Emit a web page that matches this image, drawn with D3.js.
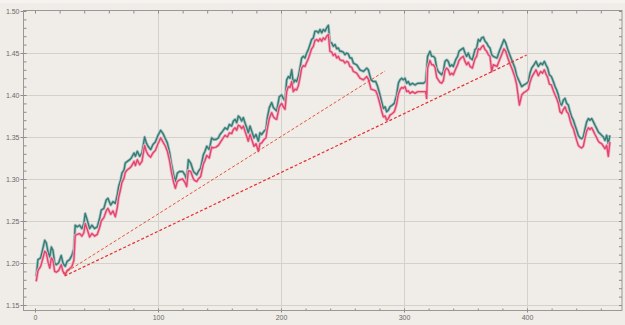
<!DOCTYPE html>
<html>
<head>
<meta charset="utf-8">
<script src="https://cdn.jsdelivr.net/npm/d3@7"></script>
<style>
  body { margin: 0; background: #f0ede8; }
  svg { display: block; font-family: "Liberation Sans", Arial, sans-serif; }
</style>
</head>
<body>
<div id="chart"></div>
<script>
// sample positions (x) and the two series
const xs = [1,2.4,4.6,6.5,7.9,9.2,10.6,12,13.3,14.6,16,17.3,19.2,21.3,22.7,24.6,26.2,28.1,30,31.6,
  32.7,34.3,36.2,38.1,39.7,40.8,42.5,44.4,46.3,48.4,50.6,52.5,53.9,56,57.9,59.3,61.5,63.4,65.3,66.9,
  68,69.6,70.7,72.4,73.4,75.1,77,78.3,80.5,81.6,83.2,85.1,87,89.1,90.5,91.9,94,95.9,97.8,100,
  102.2,104.1,106,107.6,109.5,110.8,112.7,114.1,115.7,117.6,120,121.9,123.3,124.7,126.6,128.8,130.1,131.5,132.8,134.7,
  136.9,138.2,139.6,141.7,143.6,145,147.2,149.1,150.4,152.6,154.5,156.4,158,159.9,161.3,162.6,164,165.3,166.7,168,
  169.4,170.7,172.1,173.4,174.8,176.2,178,179.7,181.6,182.9,184.3,186.2,187.8,188.9,190.5,192.4,193.8,195.1,196.5,198.6,
  200.5,201.9,203.3,204.6,206,207.3,208.7,210,211.4,212.7,214.1,215.4,216.8,218.2,219.5,220.9,222.2,223.6,224.9,226.3,
  227.6,229,230.4,231.7,233.1,234.4,235.8,237.1,238.5,239.8,241.2,242.5,243.9,245.3,246.6,247.9,249.3,250.6,252,253.4,
  254.7,256,257.5,258.8,261.5,264.2,267,269.7,271,273.2,275.1,277,278.6,280.5,281.8,283.2,284.6,285.9,287.3,288.6,
  290.5,292.1,294,295.4,296.7,298.1,299.5,300.8,302.2,303.5,304.9,306.8,309,311.2,313.9,315.8,317.6,318.4,319.2,321.1,
  322.5,323.8,325.2,326.6,327.9,329.3,330.6,332,333.3,334.7,336,337.4,338.8,340.1,342,343.6,344.7,346.3,348.2,349.6,
  350.9,352.3,353.7,355.6,357.7,359.1,360.4,361.8,363.1,364.5,365.9,367.2,368.6,369.9,371.3,372.6,375.6,377.5,379.7,381.3,
  382.7,384.4,386.2,388.1,390.2,391.6,393.8,395.7,397.5,399.8,401.2,402.4,403.8,405.7,407.3,409.2,411.1,412.6,414.1,415.4,
  416.8,418.2,419.8,421.4,422.8,424.1,425.5,426.8,428.2,429.6,430.9,432.3,433.6,435,436.3,437.7,439,440.4,441.7,443.1,
  444.4,445.8,447.2,448.5,449.9,451.2,452.6,454,455.3,456.7,458,459.4,460.7,462.1,463.4,464.8,466.1,467.4];

const tealVals = [1.184,1.204,1.206,1.218,1.227,1.224,1.213,1.207,1.219,1.215,1.200,1.198,1.200,1.209,1.200,1.196,1.202,1.204,1.209,1.217,
  1.245,1.243,1.245,1.241,1.247,1.259,1.251,1.241,1.245,1.241,1.243,1.253,1.263,1.265,1.275,1.277,1.269,1.273,1.271,1.281,
  1.291,1.299,1.307,1.311,1.319,1.321,1.323,1.325,1.331,1.327,1.333,1.327,1.331,1.350,1.343,1.339,1.335,1.341,1.344,1.352,
  1.358,1.354,1.348,1.343,1.331,1.319,1.305,1.297,1.307,1.309,1.309,1.305,1.299,1.323,1.319,1.309,1.307,1.305,1.309,1.313,
  1.329,1.333,1.339,1.335,1.349,1.347,1.347,1.349,1.353,1.357,1.361,1.359,1.365,1.363,1.369,1.371,1.367,1.375,1.373,1.369,
  1.373,1.367,1.361,1.355,1.363,1.357,1.349,1.353,1.345,1.355,1.353,1.357,1.359,1.373,1.385,1.391,1.385,1.383,1.381,1.398,
  1.400,1.396,1.393,1.418,1.422,1.420,1.430,1.414,1.418,1.416,1.422,1.432,1.444,1.446,1.444,1.450,1.454,1.460,1.466,1.468,
  1.476,1.476,1.474,1.478,1.474,1.478,1.476,1.480,1.483,1.463,1.462,1.458,1.460,1.455,1.456,1.452,1.452,1.451,1.448,1.450,
  1.449,1.444,1.444,1.438,1.436,1.430,1.428,1.432,1.430,1.418,1.416,1.416,1.410,1.400,1.392,1.384,1.386,1.380,1.382,1.386,
  1.388,1.390,1.400,1.414,1.418,1.420,1.418,1.420,1.414,1.416,1.412,1.414,1.412,1.414,1.414,1.414,1.416,1.430,1.446,1.452,
  1.446,1.446,1.444,1.432,1.428,1.426,1.424,1.428,1.440,1.442,1.440,1.434,1.436,1.434,1.442,1.446,1.452,1.454,1.456,1.450,
  1.446,1.450,1.444,1.442,1.454,1.456,1.466,1.464,1.468,1.469,1.464,1.462,1.458,1.456,1.448,1.446,1.444,1.452,1.460,1.466,
  1.462,1.454,1.447,1.440,1.432,1.423,1.416,1.410,1.412,1.414,1.416,1.426,1.432,1.436,1.440,1.434,1.438,1.436,1.440,1.436,
  1.432,1.424,1.422,1.416,1.410,1.406,1.400,1.390,1.388,1.394,1.396,1.390,1.388,1.380,1.374,1.370,1.364,1.358,1.352,1.349,
  1.348,1.350,1.360,1.368,1.372,1.370,1.372,1.368,1.364,1.360,1.356,1.354,1.352,1.350,1.346,1.352,1.342,1.352];

const pinkVals = [1.178,1.191,1.196,1.206,1.214,1.212,1.201,1.194,1.206,1.203,1.190,1.189,1.191,1.198,1.190,1.186,1.191,1.193,1.196,1.203,
  1.233,1.234,1.235,1.232,1.236,1.247,1.240,1.231,1.235,1.232,1.234,1.242,1.250,1.254,1.262,1.265,1.258,1.262,1.255,1.266,
  1.278,1.288,1.296,1.301,1.308,1.311,1.313,1.315,1.321,1.316,1.323,1.317,1.321,1.340,1.333,1.329,1.326,1.331,1.334,1.342,
  1.349,1.344,1.339,1.333,1.321,1.309,1.296,1.289,1.297,1.299,1.300,1.296,1.291,1.310,1.309,1.300,1.298,1.297,1.300,1.303,
  1.318,1.322,1.328,1.325,1.338,1.337,1.338,1.340,1.343,1.348,1.352,1.350,1.355,1.354,1.359,1.361,1.358,1.364,1.363,1.360,
  1.363,1.357,1.351,1.345,1.353,1.347,1.339,1.342,1.333,1.342,1.343,1.347,1.349,1.360,1.372,1.379,1.374,1.372,1.371,1.386,
  1.390,1.386,1.383,1.404,1.410,1.409,1.416,1.404,1.407,1.406,1.411,1.420,1.432,1.435,1.434,1.439,1.443,1.449,1.455,1.458,
  1.465,1.466,1.464,1.467,1.464,1.468,1.466,1.470,1.472,1.452,1.451,1.447,1.449,1.444,1.446,1.442,1.441,1.441,1.438,1.440,
  1.439,1.434,1.433,1.428,1.426,1.420,1.418,1.422,1.419,1.407,1.406,1.405,1.399,1.389,1.381,1.374,1.375,1.370,1.372,1.376,
  1.378,1.380,1.389,1.401,1.406,1.409,1.408,1.410,1.404,1.405,1.402,1.404,1.402,1.404,1.404,1.404,1.404,1.396,1.432,1.441,
  1.436,1.436,1.433,1.421,1.418,1.415,1.414,1.417,1.429,1.432,1.430,1.424,1.426,1.424,1.431,1.436,1.441,1.444,1.446,1.440,
  1.436,1.439,1.434,1.432,1.443,1.446,1.455,1.454,1.457,1.459,1.454,1.452,1.448,1.446,1.428,1.436,1.434,1.441,1.449,1.455,
  1.452,1.444,1.437,1.430,1.421,1.412,1.388,1.400,1.403,1.405,1.407,1.415,1.421,1.426,1.430,1.423,1.428,1.426,1.430,1.425,
  1.421,1.413,1.412,1.405,1.400,1.396,1.390,1.380,1.378,1.383,1.386,1.380,1.378,1.370,1.364,1.360,1.353,1.346,1.340,1.338,
  1.337,1.339,1.349,1.357,1.361,1.359,1.361,1.357,1.353,1.349,1.345,1.343,1.342,1.339,1.336,1.340,1.327,1.344];

// dashed trend lines, end points
const trendUpperX = [22.8, 284.6];
const trendUpperY = [1.187, 1.4286];
const trendLowerX = [24.1, 399.7];
const trendLowerY = [1.1845, 1.4476];

const xTicks = [0, 100, 200, 300, 400];
const yTicks = [1.15, 1.20, 1.25, 1.30, 1.35, 1.40, 1.45, 1.50];

const W = 625, H = 325;
const FRAME = { left: 23.5, right: 622, top: 10.5, bottom: 310.5 };

const svg = d3.select('#chart').append('svg')
  .attr('width', W)
  .attr('height', H);

svg.append('rect').attr('width', W).attr('height', H).attr('fill', '#f0ede8');
svg.append('rect').attr('width', W).attr('height', 3).attr('fill', '#f5f3f0');

const xScale = d3.scaleLinear().domain([0, 400]).range([35, 527]);
const yScale = d3.scaleLinear().domain([1.15, 1.50]).range([305, 11]);

// grid
svg.append('g').selectAll('line')
  .data(yTicks.filter(d => d < 1.5))
  .join('line')
  .attr('x1', FRAME.left).attr('x2', FRAME.right)
  .attr('y1', d => Math.round(yScale(d)) + 0.5).attr('y2', d => Math.round(yScale(d)) + 0.5)
  .attr('stroke', '#d4d0ca');

svg.append('g').selectAll('line')
  .data(xTicks.filter(d => d > 0))
  .join('line')
  .attr('x1', d => Math.round(xScale(d)) + 0.5).attr('x2', d => Math.round(xScale(d)) + 0.5)
  .attr('y1', FRAME.top).attr('y2', FRAME.bottom)
  .attr('stroke', '#d4d0ca');

// axes
const minorX = d3.range(0, 480, 20);
const minorY = d3.range(1.15, 1.5001, 0.01);

function styleAxis(g) {
  g.select('.domain').remove();
  g.selectAll('line').attr('stroke', '#8c8a87');
  g.selectAll('text').attr('fill', '#6a6866').attr('font-size', 7);
}

svg.append('g')
  .attr('transform', `translate(${FRAME.left},0)`)
  .call(d3.axisLeft(yScale).tickValues(yTicks).tickSize(3).tickPadding(1).tickFormat(d3.format('.2f')))
  .call(styleAxis);
svg.append('g')
  .attr('transform', `translate(${FRAME.left},0)`)
  .call(d3.axisLeft(yScale).tickValues(minorY).tickSize(-3).tickFormat(''))
  .call(styleAxis);
svg.append('g')
  .attr('transform', `translate(${FRAME.right},0)`)
  .call(d3.axisRight(yScale).tickValues(minorY).tickSize(-3).tickFormat(''))
  .call(styleAxis);

svg.append('g')
  .attr('transform', `translate(0,${FRAME.bottom})`)
  .call(d3.axisBottom(xScale).tickValues(xTicks).tickSize(2).tickPadding(3).tickFormat(d3.format('d')))
  .call(styleAxis);
svg.append('g')
  .attr('transform', `translate(0,${FRAME.bottom})`)
  .call(d3.axisBottom(xScale).tickValues(minorX).tickSize(-2).tickFormat(''))
  .call(styleAxis);
svg.append('g')
  .attr('transform', `translate(0,${FRAME.top})`)
  .call(d3.axisTop(xScale).tickValues(minorX).tickSize(-3).tickFormat(''))
  .call(styleAxis);

// frame
svg.append('rect')
  .attr('x', FRAME.left).attr('y', FRAME.top)
  .attr('width', FRAME.right - FRAME.left).attr('height', FRAME.bottom - FRAME.top)
  .attr('fill', 'none')
  .attr('stroke', '#9a9794');

// series
const line = d3.line()
  .x((d, i) => xScale(xs[i]))
  .y(d => yScale(d));

const plot = svg.append('g');

plot.append('path').datum(tealVals)
  .attr('d', line).attr('fill', 'none')
  .attr('stroke', '#a7c7c3').attr('stroke-width', 3).attr('stroke-linejoin', 'round');
plot.append('path').datum(tealVals)
  .attr('d', line).attr('fill', 'none')
  .attr('stroke', '#377a76').attr('stroke-width', 1.4).attr('stroke-linejoin', 'round');

plot.append('path').datum(pinkVals)
  .attr('d', line).attr('fill', 'none')
  .attr('stroke', '#f2b3c2').attr('stroke-width', 3).attr('stroke-linejoin', 'round');
plot.append('path').datum(pinkVals)
  .attr('d', line).attr('fill', 'none')
  .attr('stroke', '#e2456e').attr('stroke-width', 1.4).attr('stroke-linejoin', 'round');

// trend lines
const trendLine = d3.line()
  .x(d => xScale(d[0]))
  .y(d => yScale(d[1]));

plot.append('path')
  .datum(trendUpperX.map((x, i) => [x, trendUpperY[i]]))
  .attr('d', trendLine)
  .attr('fill', 'none')
  .attr('stroke', '#e2553a')
  .attr('stroke-width', 1)
  .attr('stroke-dasharray', '3,2');

plot.append('path')
  .datum(trendLowerX.map((x, i) => [x, trendLowerY[i]]))
  .attr('d', trendLine)
  .attr('fill', 'none')
  .attr('stroke', '#e5302f')
  .attr('stroke-width', 1.2)
  .attr('stroke-dasharray', '3,2');
</script>
</body>
</html>
